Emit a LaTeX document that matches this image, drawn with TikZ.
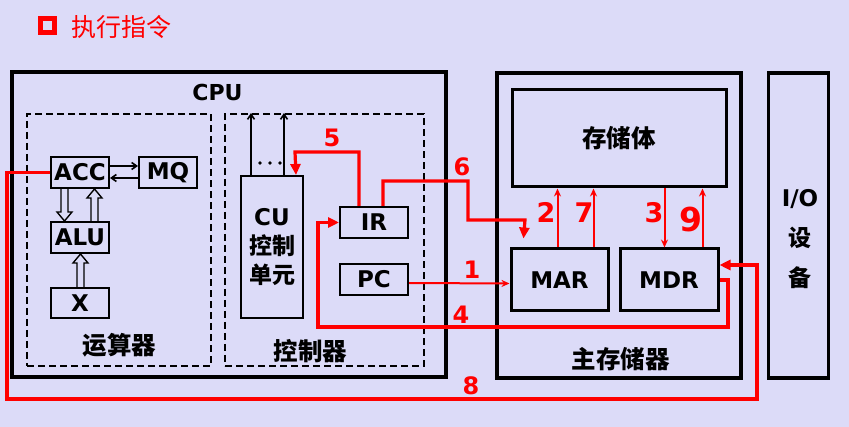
\documentclass[tikz,border=0pt]{standalone}
\usepackage{fontspec}
\setmainfont{DejaVu Sans}
\newfontfamily\cjk{Noto Sans CJK SC}
\usetikzlibrary{arrows.meta,calc}
\definecolor{bg}{RGB}{220,219,248}
\definecolor{myred}{RGB}{255,0,0}
\newcommand\hollowarr[3]{%
  \draw[hollow] let \p1=#1, \p2=#2 in
    (\x1-3.5pt,\y1) -- (\x1-3.5pt,\y2#3) -- (\x1-7.5pt,\y2#3) -- (\x1,\y2)
    -- (\x1+7.5pt,\y2#3) -- (\x1+3.5pt,\y2#3) -- (\x1+3.5pt,\y1);}
\begin{document}
\begin{tikzpicture}[x=1pt,y=-1pt,
  outer/.style={draw=black,line width=3.2pt,inner sep=0pt},
  membox/.style={draw=black,line width=3pt,inner sep=0pt,font=\fontsize{23}{23}\selectfont\bfseries},
  inbox/.style={draw=black,line width=2pt,inner sep=0pt,font=\fontsize{23}{23}\selectfont\bfseries},
  dbox/.style={draw=black,line width=2pt,dash pattern=on 7pt off 4pt,inner sep=0pt},
  lbl/.style={font=\fontsize{22}{22}\selectfont\bfseries,inner sep=0pt},
  zh/.style={font=\fontsize{24.5}{24.5}\selectfont\cjk\bfseries,inner sep=0pt},
  num/.style={text=myred,font=\fontsize{24}{24}\selectfont\bfseries,inner sep=0pt},
  bignum/.style={text=myred,font=\fontsize{27}{27}\selectfont\bfseries,inner sep=0pt},
  rthick/.style={draw=myred,line width=3.2pt,-{Triangle[length=11pt,width=10pt]}},
  rthin/.style={draw=myred,line width=2pt,-{Stealth[length=8pt,width=7pt]}},
  bthin/.style={draw=black,line width=1.6pt,-{Straight Barb[length=5pt,width=7pt]}},
  hollow/.style={draw=black,line width=1.4pt,line join=miter}
]
\fill[bg] (0,0) rectangle (849,427);
\useasboundingbox (0,0) rectangle (849,427);

% title
\node[draw=myred,line width=5pt,minimum size=14pt,inner sep=0pt] (sq) at (47.8,26) {};
\node[text=myred,font=\fontsize{25}{25}\selectfont\cjk,inner sep=0pt] (title) at (121,27) {执行指令};

% CPU
\node[outer,minimum width=434,minimum height=305] (CPU) at (229,224.5) {};
\node[lbl] (cpulbl) at (217.5,92.5) {CPU};
\node[dbox,minimum width=184,minimum height=252] (ARITH) at (119,240) {};
\node[dbox,minimum width=199,minimum height=252] (CTRL) at (324.5,240) {};
\node[zh] (yun) at (119.5,345) {运算器};
\node[zh] (kong) at (310.5,351) {控制器};

\node[inbox,minimum width=58,minimum height=31] (ACC) at (80,172.5) {ACC};
\node[inbox,minimum width=58,minimum height=31] (MQ) at (168,172.5) {MQ};
\node[inbox,minimum width=58,minimum height=31] (ALU) at (80,237.5) {ALU};
\node[inbox,minimum width=58,minimum height=30] (X) at (80,303) {X};

\node[inbox,minimum width=62,minimum height=142,align=center,
      font=\fontsize{23}{29}\selectfont\bfseries] (CU) at (272,247) {CU\\{\cjk 控制}\\{\cjk 单元}};
\node[inbox,minimum width=68,minimum height=31] (IR) at (374,222.5) {IR};
\node[inbox,minimum width=68,minimum height=31] (PC) at (374,279.5) {PC};

% memory
\node[outer,minimum width=244,minimum height=305] (MEM) at (619,225.5) {};
\node[membox,zh,minimum width=214,minimum height=97] (STOR) at (619,138.5) {存储体};
\node[membox,minimum width=97,minimum height=62] (MAR) at (559.5,280) {MAR};
\node[membox,minimum width=98,minimum height=62] (MDR) at (669,280) {MDR};
\node[zh] (zhucun) at (620.5,359.5) {主存储器};

% I/O
\node[outer,minimum width=60,minimum height=305] (IO) at (798.5,225.5) {};
\node[align=center,inner sep=0pt,font=\fontsize{23}{40}\selectfont\bfseries] (iotext) at (800,239) {I/O\\{\cjk 设}\\{\cjk 备}};

% black arrows
\draw[bthin] ($(ACC.east)+(0,-6.5)$) -- ($(MQ.west)+(0,-6.5)$);
\draw[bthin] ($(MQ.west)+(0,5.5)$) -- ($(ACC.east)+(0,5.5)$);
\coordinate (cua) at ($(CU.north west)+(11,0)$);
\coordinate (cub) at ($(CU.north west)+(44,0)$);
\draw[bthin] (cua) -- (cua |- CTRL.north);
\draw[bthin] (cub) -- (cub |- CTRL.north);
\fill (260,163) circle (1.8pt);
\fill (270,163) circle (1.8pt);
\fill (280,163) circle (1.8pt);

% hollow arrows
\hollowarr{($(ACC.south)+(-15.5,0)$)}{($(ALU.north)+(-15.5,0)$)}{+9pt}
\hollowarr{($(ALU.north)+(14.5,0)$)}{($(ACC.south)+(14.5,0)$)}{-9pt}
\hollowarr{($(X.north)+(0.5,0)$)}{($(ALU.south)+(0.5,0)$)}{-9pt}

% red arrows
\coordinate (c5) at (295,152);
\draw[rthick] ($(IR.north)+(-15,0)$) |- (c5) -- ($(CU.north east)+(-8,0)$);
\node[num] (n5) at (332,137.5) {5};

\coordinate (c6a) at (468,181);
\coordinate (c6b) at (525,220);
\draw[rthick] ($(IR.north)+(9,0)$) |- (c6a) |- (c6b) -- ($(MAR.north west)+(14,-9)$);
\node[num] (n6) at (462,167) {6};

\draw[rthin] ($(PC.east)+(0,3.5)$) -- ($(MAR.west)+(0,3.5)$);
\node[num] (n1) at (472,270) {1};

\coordinate (a2) at ($(MAR.north west)+(48,0)$);
\coordinate (a7) at ($(MAR.north west)+(84,0)$);
\coordinate (a3) at ($(MDR.north west)+(46,0)$);
\coordinate (a9) at ($(MDR.north west)+(84,0)$);
\draw[rthin] (a2) -- (a2 |- STOR.south);
\draw[rthin] (a7) -- (a7 |- STOR.south);
\draw[rthin] (a3 |- STOR.south) -- (a3);
\draw[rthin] (a9) -- (a9 |- STOR.south);
\node[bignum] (n2) at (546,212.5) {2};
\node[bignum] (n7) at (584,212.5) {7};
\node[bignum] (n3) at (654,212.5) {3};
\node[text=myred,font=\fontsize{33}{33}\selectfont\bfseries,inner sep=0pt] (n9) at (690.5,220) {9};

\coordinate (c4a) at (728,327);
\coordinate (c4b) at (318,327);
\draw[rthick] (MDR.east) -| (c4a) -- (c4b) |- (IR.west);
\node[num] (n4) at (461,315) {4};

\coordinate (c8a) at (7,399);
\coordinate (c8b) at (757,399);
\draw[rthick] (ACC.west) -| (c8a) -- (c8b) |- ($(MDR.east)+(0,-15)$);
\node[num] (n8) at (471,386) {8};
\end{tikzpicture}
\end{document}
